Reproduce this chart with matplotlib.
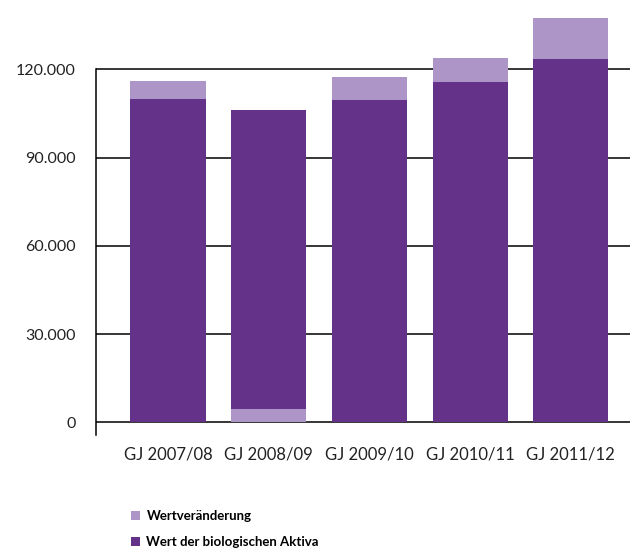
import matplotlib
matplotlib.use("Agg")
import matplotlib.pyplot as plt
from matplotlib.patches import Patch

# ---- data ----
categories = ["GJ 2007/08", "GJ 2008/09", "GJ 2009/10", "GJ 2010/11", "GJ 2011/12"]
wert_aktiva = [109900, 106150, 109550, 115700, 123500]      # Wert der biologischen Aktiva
wertveraenderung = [6100, -4500, 7800, 8150, 14000]          # Wertveränderung
yticks = [0, 30000, 60000, 90000, 120000]
ytick_labels = ["0", "30.000", "60.000", "90.000", "120.000"]
legend_labels = ["Wertveränderung", "Wert der biologischen Aktiva"]

DARK = "#653289"
LIGHT = "#AD95C8"

plt.rcParams["font.family"] = ["Lato", "DejaVu Sans"]

fig = plt.figure(figsize=(6.33, 5.5), dpi=100)
ax = fig.add_axes([96 / 633, (550 - 435) / 550, (630 - 96) / 633, (435 - 10.4) / 550])

x = list(range(len(categories)))
width = 0.745

# dark bars: full value; light segment stacked on top (positive change)
# or drawn at the base (negative change)
ax.bar(x, wert_aktiva, width=width, color=DARK, zorder=3)
light_bottom = [a if c >= 0 else 0 for a, c in zip(wert_aktiva, wertveraenderung)]
light_height = [abs(c) for c in wertveraenderung]
ax.bar(x, light_height, bottom=light_bottom, width=width, color=LIGHT, zorder=3)

ax.set_xlim(-0.715, 4.588)
ax.set_ylim(-4300, 140000)

# grid lines
for t in yticks:
    ax.axhline(t, color="black", linewidth=1.1, zorder=1)

ax.set_yticks(yticks)
ax.set_yticklabels(ytick_labels, fontsize=11.5, color="#222222")
ax.tick_params(axis="y", length=0, pad=14.5)
ax.set_xticks(x)
ax.set_xticklabels(categories, fontsize=12, color="#222222")
ax.tick_params(axis="x", length=0, pad=8)

for s in ["top", "right", "bottom"]:
    ax.spines[s].set_visible(False)
ax.spines["left"].set_color("black")
ax.spines["left"].set_linewidth(1.1)
ax.spines["left"].set_bounds(-4300, 120000)

handles = [Patch(facecolor=LIGHT, edgecolor="none"), Patch(facecolor=DARK, edgecolor="none")]
fig.legend(handles, legend_labels, loc="upper left", bbox_to_anchor=(126 / 633, 1 - 505 / 550),
           frameon=False, handlelength=0.65, handleheight=0.65, handletextpad=0.5,
           labelspacing=1.05, borderaxespad=0,
           prop={"family": ["Lato", "DejaVu Sans"], "weight": "bold", "size": 9.5})

fig.savefig("out.png", dpi=100)
